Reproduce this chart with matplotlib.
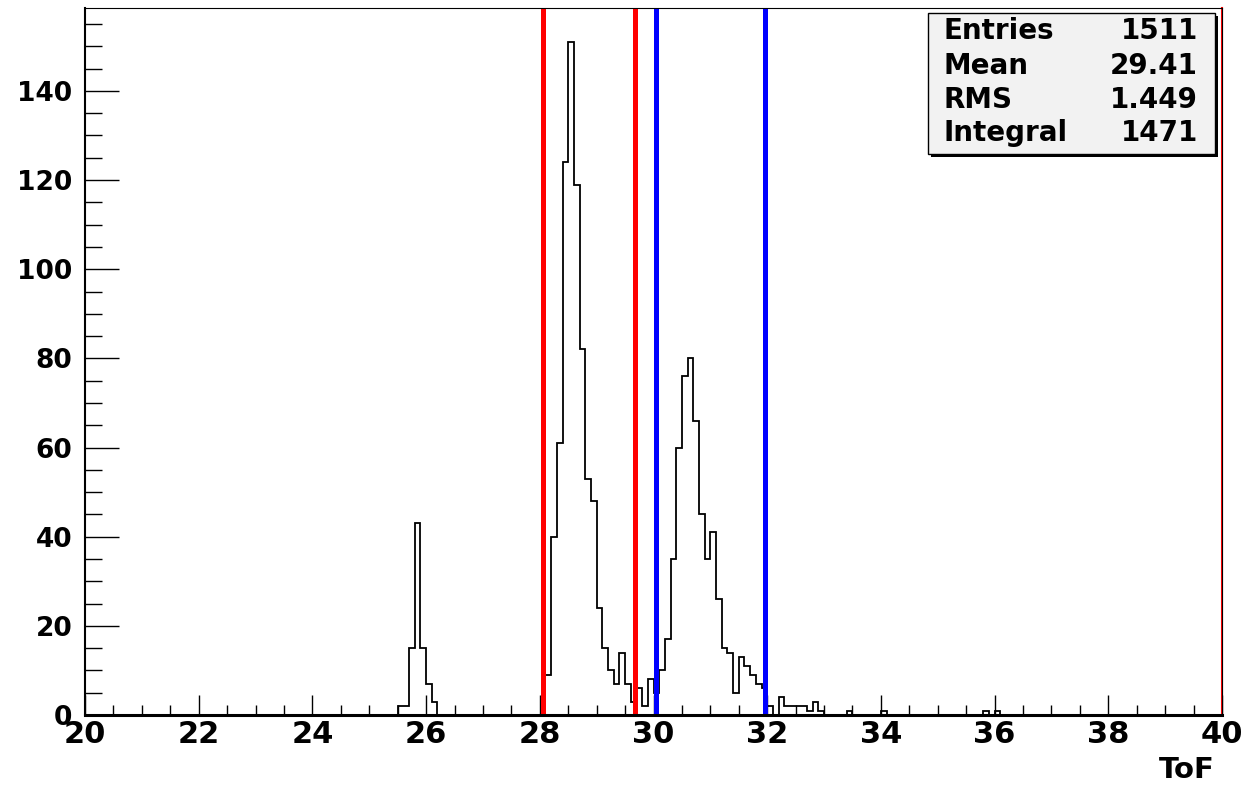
import numpy as np
import matplotlib.pyplot as plt
from matplotlib.patches import Rectangle

plt.rcParams['font.family'] = ['DejaVu Sans']
plt.rcParams['font.weight'] = 'bold'

# histogram: 0.1 wide bins from 20 to 40, only the non-empty ones listed
x_min, x_max, bin_width = 20.0, 40.0, 0.1
bin_start = [25.5, 25.6, 25.7, 25.8, 25.9, 26.0, 26.1,
             28.1, 28.2, 28.3, 28.4, 28.5, 28.6, 28.7, 28.8, 28.9, 29.0,
             29.1, 29.2, 29.3, 29.4, 29.5, 29.6, 29.7, 29.8, 29.9,
             30.0, 30.1, 30.2, 30.3, 30.4, 30.5, 30.6, 30.7, 30.8, 30.9,
             31.0, 31.1, 31.2, 31.3, 31.4, 31.5, 31.6, 31.7, 31.8, 31.9,
             32.0, 32.2, 32.3, 32.4, 32.5, 32.6, 32.7, 32.8, 32.9,
             33.4, 34.0, 35.8, 36.0]
bin_count = [2, 2, 15, 43, 15, 7, 3,
             9, 40, 61, 124, 151, 119, 82, 53, 48, 24,
             15, 10, 7, 14, 7, 3, 6, 2, 8,
             5, 10, 17, 35, 60, 76, 80, 66, 45, 35,
             41, 26, 15, 14, 5, 13, 11, 9, 7, 6,
             2, 4, 2, 2, 2, 2, 1, 3, 1,
             1, 1, 1, 1]

red_cuts = [28.06, 29.68]
blue_cuts = [30.04, 31.96]

stats_names = ['Entries', 'Mean', 'RMS', 'Integral']
stats_values = ['1511', '29.41', '1.449', '1471']

edges = np.round(np.arange(x_min, x_max + bin_width / 2, bin_width), 3)
counts = np.zeros(len(edges) - 1)
for s, c in zip(bin_start, bin_count):
    counts[int(round((s - x_min) / bin_width))] = c

W, H = 1245, 786
fig = plt.figure(figsize=(W / 100, H / 100), dpi=100)
ax = fig.add_axes([85 / W, 1 - 715 / H, (1222 - 85) / W, (715 - 8) / H])

ax.stairs(counts, edges, color='black', linewidth=1.3, baseline=0)
for x in red_cuts:
    ax.axvline(x, color='red', linewidth=3.6)
for x in blue_cuts:
    ax.axvline(x, color='blue', linewidth=3.6)
ax.axvline(x_max, color='red', linewidth=1.5, clip_on=False)

ax.set_xlim(x_min, x_max)
ax.set_ylim(0, 158.6)

ax.set_xticks(np.arange(20, 41, 2))
ax.set_xticks(np.arange(20, 40.01, 0.5), minor=True)
ax.set_yticks(np.arange(0, 141, 20))
ax.set_yticks(np.arange(0, 156, 5), minor=True)

ax.tick_params(which='both', direction='in', top=False, right=False, width=1.0, colors='black')
ax.tick_params(axis='x', which='major', length=14.4, pad=3.5, labelsize=22)
ax.tick_params(axis='x', which='minor', length=7.2)
ax.tick_params(axis='y', which='major', length=24.5, pad=9, labelsize=19)
ax.tick_params(axis='y', which='minor', length=12.2)

ax.spines['left'].set_linewidth(1.5)
ax.spines['bottom'].set_linewidth(2.2)
ax.spines['top'].set_linewidth(0.8)
ax.spines['right'].set_linewidth(0.8)

fig.text(1215 / W, 1 - 770 / H, 'ToF', ha='right', va='center', fontsize=21)

# stats box with drop shadow
bx0, by0, bx1, by1 = 928, 13, 1215, 154
fig.patches.append(Rectangle(((bx0 + 3) / W, 1 - (by1 + 3) / H), (bx1 - bx0) / W, (by1 - by0) / H,
                             transform=fig.transFigure, facecolor='black', edgecolor='none'))
fig.patches.append(Rectangle((bx0 / W, 1 - by1 / H), (bx1 - bx0) / W, (by1 - by0) / H,
                             transform=fig.transFigure, facecolor='#f2f2f2', edgecolor='black',
                             linewidth=1.0))
row_y = [31, 66, 100, 133]
for name, val, yy in zip(stats_names, stats_values, row_y):
    fig.text(943 / W, 1 - yy / H, name, ha='left', va='center', fontsize=20)
    fig.text(1198 / W, 1 - yy / H, val, ha='right', va='center', fontsize=20)

fig.savefig('out.png', dpi=100)
